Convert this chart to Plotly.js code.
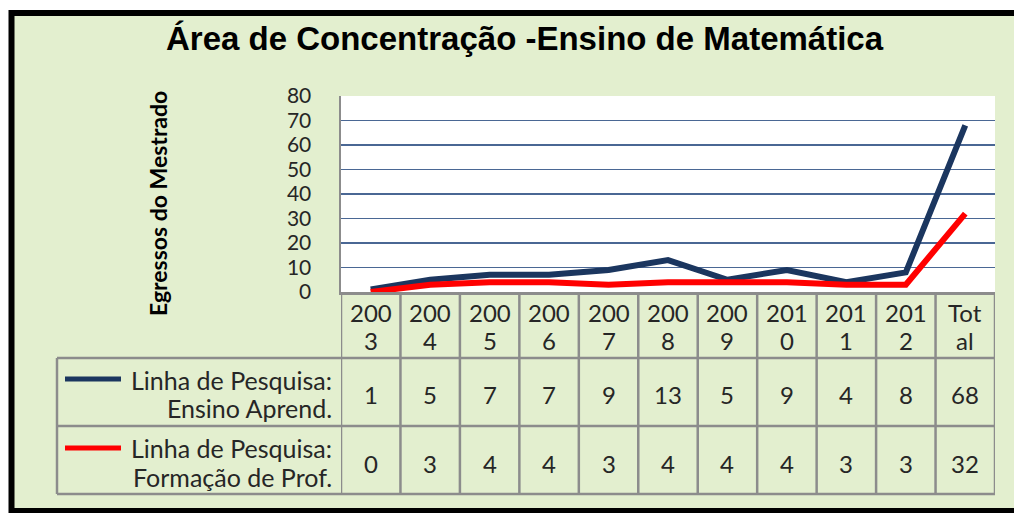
<!DOCTYPE html>
<html><head><meta charset="utf-8">
<script src="https://cdn.plot.ly/plotly-3.0.1.min.js"></script>
<style>html,body{margin:0;padding:0;background:#fff}#chart{width:1014px;height:513px}</style>
</head><body><div id="chart"></div>
<script>
const categories = ['2003','2004','2005','2006','2007','2008','2009','2010','2011','2012','Total'];
const ensinoAprend = [1,5,7,7,9,13,5,9,4,8,68];
const formacaoProf = [0,3,4,4,3,4,4,4,3,3,32];
const seriesNames = [['Linha de Pesquisa:','Ensino Aprend.'],['Linha de Pesquisa:','Formação de Prof.']];
const seriesColors = ['#1B365F','#FF0000'];
const titleText = 'Área de Concentração -Ensino de Matemática';
const yTitle = 'Egressos do Mestrado';
const yTicks = [0,10,20,30,40,50,60,70,80];

const W=1014,H=513, L=341,R=995,T=96,B=292;
const pw=R-L, ph=B-T;
const px=x=>(x-L)/pw, py=y=>(B-y)/ph;
const gray='#8C8C8C', green='#E3EFCF', txt='#262626';
const tf="Lato, 'Open Sans', sans-serif";

const series=[ensinoAprend,formacaoProf];
const traces = series.map((s,i)=>({
  type:'scatter', mode:'lines', x:categories, y:s, name:seriesNames[i].join(' '),
  line:{color:seriesColors[i], width:6, shape:'linear'}, hoverinfo:'skip'
}));

const shapes=[];
shapes.push({type:'rect',xref:'paper',yref:'paper',x0:px(11.5),x1:px(1030),y0:py(511),y1:py(13),
  fillcolor:green,line:{color:'#000',width:6},layer:'below'});
shapes.push({type:'rect',xref:'paper',yref:'paper',x0:0,x1:1,y0:0,y1:1,fillcolor:'#fff',line:{width:0},layer:'below'});
for(let i=0;i<=categories.length;i++){
  shapes.push({type:'line',xref:'x',yref:'paper',x0:i-0.5,x1:i-0.5,y0:py(B),y1:py(494),line:{color:gray,width:2.5}});
}
[358,426,494].forEach(y=>shapes.push({type:'line',xref:'paper',yref:'paper',x0:px(57),x1:1,y0:py(y),y1:py(y),line:{color:gray,width:2.5}}));
shapes.push({type:'line',xref:'paper',yref:'paper',x0:px(57),x1:px(57),y0:py(358),y1:py(494),line:{color:gray,width:2.5}});
const keyY=[379,448];
seriesColors.forEach((c,i)=>shapes.push({type:'line',xref:'paper',yref:'paper',x0:px(65),x1:px(121),y0:py(keyY[i]),y1:py(keyY[i]),line:{color:c,width:5}}));

const ann=[];
const A=(o)=>ann.push(Object.assign({showarrow:false,xanchor:'center',yanchor:'middle'},o));
A({xref:'paper',yref:'paper',x:px(525),y:py(38),text:'<b>'+titleText+'</b>',
  font:{family:"'Liberation Sans', Arial, sans-serif",size:33,color:'#000'}});
A({xref:'paper',yref:'paper',x:px(158),y:py(204),text:'<b>'+yTitle+'</b>',textangle:-90,
  font:{family:tf,size:23,color:'#000'}});
categories.forEach((c,i)=>{
  A({xref:'x',yref:'paper',x:i,y:py(312),text:c.slice(0,3),font:{family:tf,size:24,color:txt}});
  A({xref:'x',yref:'paper',x:i,y:py(340),text:c.slice(3),font:{family:tf,size:24,color:txt}});
  A({xref:'x',yref:'paper',x:i,y:py(394),text:String(ensinoAprend[i]),font:{family:tf,size:24,color:txt}});
  A({xref:'x',yref:'paper',x:i,y:py(463),text:String(formacaoProf[i]),font:{family:tf,size:24,color:txt}});
});
const lineYs=[[380,408],[448,477]];
seriesNames.forEach((n,i)=>{
  n.forEach((t,j)=>A({xref:'paper',yref:'paper',x:px(334),y:py(lineYs[i][j]),text:t,xanchor:'right',
    font:{family:tf,size:25,color:txt}}));
});

const layout={
  width:W,height:H,margin:{l:L,r:W-R,t:T,b:H-B},
  paper_bgcolor:'#fff',plot_bgcolor:'#fff',showlegend:false,
  xaxis:{type:'category',categoryarray:categories,range:[-0.5,categories.length-0.5],showgrid:false,
    showticklabels:false,ticks:'',showline:true,linecolor:gray,linewidth:2.5,zeroline:false,fixedrange:true},
  yaxis:{range:[0,80],tickvals:yTicks,ticktext:yTicks.map(String),showgrid:true,gridcolor:'#4A6794',gridwidth:1.5,
    showline:true,linecolor:gray,linewidth:2.5,zeroline:false,ticks:'',ticklabelstandoff:23,
    tickfont:{family:tf,size:21,color:txt},fixedrange:true},
  shapes:shapes,annotations:ann
};
Plotly.newPlot('chart',traces,layout,{displayModeBar:false,staticPlot:true});
</script></body></html>
